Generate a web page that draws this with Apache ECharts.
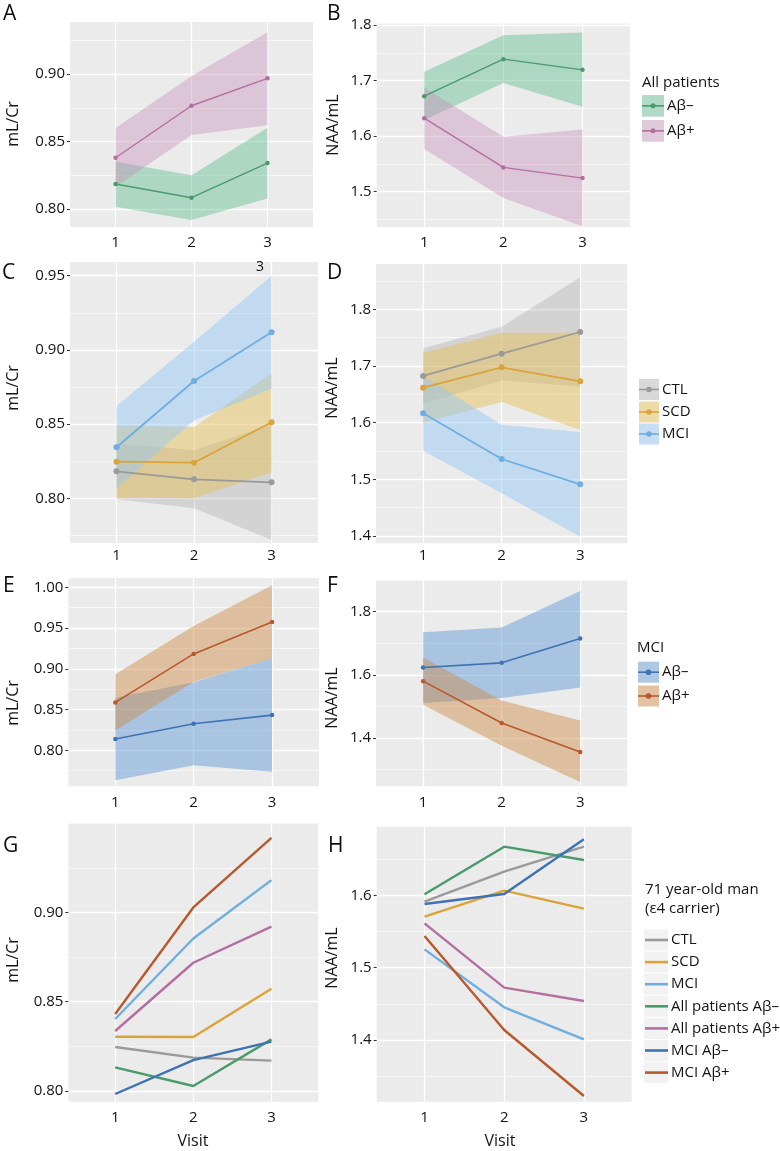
<!DOCTYPE html>
<html><head><meta charset="utf-8">
<script src="https://cdn.jsdelivr.net/npm/echarts@6/dist/echarts.min.js"></script>
<style>html,body{margin:0;padding:0;background:#fff}#c{width:780px;height:1151px}</style>
</head><body><div id="c"></div>
<script>
// ---------- data ----------
const visits = [1, 2, 3];

// A: mL/Cr, all patients
const A_negMean = [0.8185, 0.8084, 0.8340];
const A_negLow  = [0.8017, 0.7919, 0.8078];
const A_negHigh = [0.8350, 0.8250, 0.8602];
const A_posMean = [0.8380, 0.8765, 0.8968];
const A_posLow  = [0.8165, 0.8548, 0.8620];
const A_posHigh = [0.8600, 0.8985, 0.9309];
const A_yTicks  = [0.80, 0.85, 0.90];

// B: NAA/mL, all patients
const B_negMean = [1.6720, 1.7385, 1.7193];
const B_negLow  = [1.6290, 1.6955, 1.6530];
const B_negHigh = [1.7157, 1.7817, 1.7865];
const B_posMean = [1.6324, 1.5437, 1.5245];
const B_posLow  = [1.5770, 1.4888, 1.4380];
const B_posHigh = [1.6876, 1.5988, 1.6120];
const B_yTicks  = [1.5, 1.6, 1.7, 1.8];

// C: mL/Cr by group
const C_ctlMean = [0.8182, 0.8128, 0.8108];
const C_ctlLow  = [0.7993, 0.7933, 0.7719];
const C_ctlHigh = [0.8371, 0.8323, 0.8497];
const C_scdMean = [0.8247, 0.8240, 0.8512];
const C_scdLow  = [0.8004, 0.8000, 0.8175];
const C_scdHigh = [0.8490, 0.8480, 0.8840];
const C_mciMean = [0.8344, 0.8790, 0.9119];
const C_mciLow  = [0.8066, 0.8525, 0.8738];
const C_mciHigh = [0.8622, 0.9055, 0.9500];
const C_yTicks  = [0.80, 0.85, 0.90, 0.95];

// D: NAA/mL by group
const D_ctlMean = [1.6824, 1.7218, 1.7600];
const D_ctlLow  = [1.6336, 1.6742, 1.6635];
const D_ctlHigh = [1.7312, 1.7694, 1.8565];
const D_scdMean = [1.6618, 1.6976, 1.6730];
const D_scdLow  = [1.6001, 1.6364, 1.5872];
const D_scdHigh = [1.7235, 1.7588, 1.7588];
const D_mciMean = [1.6165, 1.5359, 1.4912];
const D_mciLow  = [1.5506, 1.4753, 1.3988];
const D_mciHigh = [1.6824, 1.5965, 1.5836];
const D_yTicks  = [1.4, 1.5, 1.6, 1.7, 1.8];

// E: mL/Cr, MCI by amyloid
const E_negMean = [0.8139, 0.8326, 0.8432];
const E_negLow  = [0.7633, 0.7816, 0.7736];
const E_negHigh = [0.8645, 0.8836, 0.9128];
const E_posMean = [0.8588, 0.9183, 0.9575];
const E_posLow  = [0.8242, 0.8840, 0.9126];
const E_posHigh = [0.8934, 0.9526, 1.0024];
const E_yTicks  = [0.80, 0.85, 0.90, 0.95, 1.00];

// F: NAA/mL, MCI by amyloid
const F_negMean = [1.6232, 1.6379, 1.7147];
const F_negLow  = [1.5105, 1.5263, 1.5600];
const F_negHigh = [1.7347, 1.7495, 1.8653];
const F_posMean = [1.5800, 1.4474, 1.3558];
const F_posLow  = [1.5053, 1.3758, 1.2610];
const F_posHigh = [1.6547, 1.5190, 1.4558];
const F_yTicks  = [1.4, 1.6, 1.8];

// G: mL/Cr, 71 year-old man
const G_ctl    = [0.8246, 0.8187, 0.8170];
const G_scd    = [0.8304, 0.8302, 0.8573];
const G_mci    = [0.8403, 0.8854, 0.9181];
const G_allNeg = [0.8132, 0.8028, 0.8289];
const G_allPos = [0.8336, 0.8718, 0.8920];
const G_mciNeg = [0.7983, 0.8173, 0.8276];
const G_mciPos = [0.8431, 0.9028, 0.9418];
const G_yTicks = [0.80, 0.85, 0.90];

// H: NAA/mL, 71 year-old man
const H_ctl    = [1.5912, 1.6327, 1.6673];
const H_scd    = [1.5705, 1.6065, 1.5816];
const H_mci    = [1.5253, 1.4452, 1.4009];
const H_allNeg = [1.6014, 1.6673, 1.6488];
const H_allPos = [1.5613, 1.4724, 1.4539];
const H_mciNeg = [1.5880, 1.6018, 1.6774];
const H_mciPos = [1.5438, 1.4138, 1.3226];
const H_yTicks = [1.4, 1.5, 1.6];

const indivNames = ['CTL', 'SCD', 'MCI', 'All patients A\u03b2\u2013', 'All patients A\u03b2+', 'MCI A\u03b2\u2013', 'MCI A\u03b2+'];

// ---------- styles ----------
const FONT = "'Open Sans', 'DejaVu Sans', sans-serif";
const TXT = '#141414';
const COL = {
  neg:   {line: '#4a9a6c', band: 'rgba(80,185,135,0.40)'},
  pos:   {line: '#b46fa0', band: 'rgba(197,140,185,0.40)'},
  ctl:   {line: '#9a9a9a', band: 'rgba(150,150,150,0.28)'},
  scd:   {line: '#dba43a', band: 'rgba(229,191,80,0.45)'},
  mci:   {line: '#6eaee0', band: 'rgba(144,198,247,0.45)'},
  mneg:  {line: '#3d73b3', band: 'rgba(103,157,213,0.50)'},
  mpos:  {line: '#b8582c', band: 'rgba(204,138,69,0.45)'}
};
const indivCols = [COL.ctl.line, COL.scd.line, COL.mci.line, COL.neg.line, COL.pos.line, COL.mneg.line, COL.mpos.line];

const panels = [
  {grid: {left: 70, top: 22, width: 243, height: 205}, ymin: 0.7867, ymax: 0.9385, ticks: A_yTicks, dec: 2, xm: 8,
   bands: [[A_negLow, A_negHigh, COL.neg], [A_posLow, A_posHigh, COL.pos]],
   lines: [[A_negMean, COL.neg], [A_posMean, COL.pos]], pt: 4.5, lw: 1.4},
  {grid: {left: 376.7, top: 23.5, width: 253.3, height: 203.5}, ymin: 1.4365, ymax: 1.8027, ticks: B_yTicks, dec: 1, xm: 8,
   bands: [[B_negLow, B_negHigh, COL.neg], [B_posLow, B_posHigh, COL.pos]],
   lines: [[B_negMean, COL.neg], [B_posMean, COL.pos]], pt: 4.5, lw: 1.4},
  {grid: {left: 70, top: 262, width: 248, height: 281}, ymin: 0.7699, ymax: 0.9592, ticks: C_yTicks, dec: 2, xm: 5,
   bands: [[C_ctlLow, C_ctlHigh, COL.ctl], [C_scdLow, C_scdHigh, COL.scd], [C_mciLow, C_mciHigh, COL.mci]],
   lines: [[C_ctlMean, COL.ctl], [C_scdMean, COL.scd], [C_mciMean, COL.mci]], pt: 6, lw: 1.8},
  {grid: {left: 376, top: 264, width: 251.3, height: 279.3}, ymin: 1.3871, ymax: 1.88, ticks: D_yTicks, dec: 1, xm: 5,
   bands: [[D_ctlLow, D_ctlHigh, COL.ctl], [D_scdLow, D_scdHigh, COL.scd], [D_mciLow, D_mciHigh, COL.mci]],
   lines: [[D_ctlMean, COL.ctl], [D_scdMean, COL.scd], [D_mciMean, COL.mci]], pt: 6, lw: 1.8},
  {grid: {left: 68.3, top: 578.3, width: 250.7, height: 208}, ymin: 0.7559, ymax: 1.011, ticks: E_yTicks, dec: 2, xm: 9,
   bands: [[E_negLow, E_negHigh, COL.mneg], [E_posLow, E_posHigh, COL.mpos]],
   lines: [[E_negMean, COL.mneg], [E_posMean, COL.mpos]], pt: 4.5, lw: 1.6},
  {grid: {left: 376, top: 580, width: 251.3, height: 206.3}, ymin: 1.2472, ymax: 1.9, ticks: F_yTicks, dec: 1, xm: 9,
   bands: [[F_negLow, F_negHigh, COL.mneg], [F_posLow, F_posHigh, COL.mpos]],
   lines: [[F_negMean, COL.mneg], [F_posMean, COL.mpos]], pt: 4.5, lw: 1.6},
  {grid: {left: 68.3, top: 823.5, width: 250, height: 278.2}, ymin: 0.794, ymax: 0.9498, ticks: G_yTicks, dec: 2, xm: 9,
   bands: [], lines: [G_ctl, G_scd, G_mci, G_allNeg, G_allPos, G_mciNeg, G_mciPos].map((d, k) => [d, {line: indivCols[k]}]), pt: 0, lw: 2.4},
  {grid: {left: 376.7, top: 826.7, width: 255, height: 275}, ymin: 1.3147, ymax: 1.6949, ticks: H_yTicks, dec: 1, xm: 9,
   bands: [], lines: [H_ctl, H_scd, H_mci, H_allNeg, H_allPos, H_mciNeg, H_mciPos].map((d, k) => [d, {line: indivCols[k]}]), pt: 0, lw: 2.4}
];

function minorTicks(t, lo, hi) {
  const step = t[1] - t[0];
  const out = [];
  for (let v = t[0] - step * 3.5; v < hi + 1e-9; v += step) {
    if (v >= lo - 1e-9) out.push(+v.toFixed(6));
  }
  return out;
}

const grids = [], xAxes = [], yAxes = [], series = [];
panels.forEach((p, i) => {
  grids.push(Object.assign({show: true, backgroundColor: '#EBEBEB', borderWidth: 0}, p.grid));
  xAxes.push({
    type: 'value', gridIndex: i, min: 0.4, max: 3.6,
    axisLine: {show: false},
    axisTick: {show: false, customValues: visits},
    axisLabel: {customValues: visits, margin: p.xm, color: TXT, fontSize: 15, fontFamily: FONT, formatter: v => String(v)},
    splitLine: {show: true, lineStyle: {color: '#ffffff', width: 1.3}}
  });
  yAxes.push({
    type: 'value', gridIndex: i, min: p.ymin, max: p.ymax, position: 'left',
    axisLine: {show: false},
    axisTick: {show: true, length: 3, customValues: p.ticks, lineStyle: {color: '#333', width: 1}},
    axisLabel: {customValues: p.ticks, margin: 5, color: TXT, fontSize: 15, fontFamily: FONT, formatter: v => v.toFixed(p.dec)},
    splitLine: {show: true, lineStyle: {color: '#ffffff', width: 1.3}}
  });
  yAxes.push({
    type: 'value', gridIndex: i, min: p.ymin, max: p.ymax, position: 'left',
    axisLine: {show: false},
    axisTick: {show: false, customValues: minorTicks(p.ticks, p.ymin, p.ymax)},
    axisLabel: {show: false},
    splitLine: {show: true, lineStyle: {color: '#ffffff', width: 0.6}}
  });
  p.bands.forEach(([low, high, c]) => {
    series.push({
      type: 'custom', xAxisIndex: i, yAxisIndex: 2 * i, silent: true, clip: true, z: 1,
      data: visits.map((v, k) => [v, low[k], high[k]]),
      encode: {x: 0, y: [1, 2]},
      renderItem: (params, api) => {
        if (params.dataIndex !== 0) return null;
        const pts = [];
        for (let k = 0; k < visits.length; k++) pts.push(api.coord([visits[k], high[k]]));
        for (let k = visits.length - 1; k >= 0; k--) pts.push(api.coord([visits[k], low[k]]));
        return {type: 'polygon', shape: {points: pts}, style: {fill: c.band, stroke: null}};
      }
    });
  });
  p.lines.forEach(([d, c]) => {
    series.push({
      type: 'line', xAxisIndex: i, yAxisIndex: 2 * i, silent: true, z: 3,
      data: visits.map((v, k) => [v, d[k]]),
      symbol: p.pt ? 'circle' : 'none', symbolSize: p.pt, showSymbol: !!p.pt,
      lineStyle: {color: c.line, width: p.lw}, itemStyle: {color: c.line}
    });
  });
});

// ---------- annotations / legends ----------
const g = [];
function txt(x, y, s, opt) {
  g.push(Object.assign({type: 'text', x: x, y: y, style: Object.assign({text: s, fill: TXT, font: '15px ' + FONT, align: 'left', verticalAlign: 'middle'}, (opt && opt.style) || {})}, (opt && opt.el) || {}));
}
function vtitle(x, y, s) {
  g.push({type: 'text', x: x, y: y, rotation: Math.PI / 2, style: {text: s, fill: TXT, font: '16px ' + FONT, align: 'center', verticalAlign: 'middle'}});
}
[['A', 3, 14], ['B', 327, 14], ['C', 2, 273], ['D', 327, 273], ['E', 3, 586], ['F', 327, 586], ['G', 3, 846], ['H', 328, 846]].forEach(([s, x, y]) => {
  txt(x, y, s, {style: {font: '21px ' + FONT, fill: '#0d0d0d'}});
});
vtitle(13, 124, 'mL/Cr'); vtitle(333, 125, 'NAA/mL');
vtitle(13, 388, 'mL/Cr'); vtitle(332, 388, 'NAA/mL');
vtitle(13, 703, 'mL/Cr'); vtitle(332, 698, 'NAA/mL');
vtitle(13, 960, 'mL/Cr'); vtitle(332, 958, 'NAA/mL');
txt(260, 267, '3', {style: {font: '14px ' + FONT, align: 'center', fill: '#0d0d0d'}});
txt(193, 1141, 'Visit', {style: {font: '16px ' + FONT, align: 'center'}});
txt(500, 1141, 'Visit', {style: {font: '16px ' + FONT, align: 'center'}});

function bandKey(x, y, w, h, c, label, pt) {
  g.push({type: 'rect', shape: {x: x, y: y, width: w, height: h}, style: {fill: '#F2F2F2'}});
  g.push({type: 'rect', shape: {x: x, y: y, width: w, height: h}, style: {fill: c.band}});
  g.push({type: 'line', shape: {x1: x, y1: y + h / 2, x2: x + w, y2: y + h / 2}, style: {stroke: c.line, lineWidth: 1.6}});
  g.push({type: 'circle', shape: {cx: x + w / 2, cy: y + h / 2, r: pt}, style: {fill: c.line}});
  txt(x + w + 3, y + h / 2, label, {style: {font: '15px ' + FONT}});
}
txt(642, 83, 'All patients', {style: {font: '15px ' + FONT}});
bandKey(642, 95, 22, 21.7, COL.neg, 'A\u03b2\u2013', 2.5);
bandKey(642, 120, 22, 21.7, COL.pos, 'A\u03b2+', 2.5);

bandKey(639, 379, 20, 21, COL.ctl, 'CTL', 2.8);
bandKey(639, 401.5, 20, 21, COL.scd, 'SCD', 2.8);
bandKey(639, 423.5, 20, 21, COL.mci, 'MCI', 2.8);

txt(637, 648, 'MCI', {style: {font: '15px ' + FONT}});
bandKey(638, 661.7, 21, 21, COL.mneg, 'A\u03b2\u2013', 2.8);
bandKey(638, 685.5, 21, 21, COL.mpos, 'A\u03b2+', 2.8);

txt(645, 890, '71 year-old man', {style: {font: '15px ' + FONT}});
txt(645, 908.5, '(\u03b54 carrier)', {style: {font: '15px ' + FONT}});
indivNames.forEach((nm, k) => {
  const cy = 940 + k * 22.1;
  g.push({type: 'rect', shape: {x: 644, y: cy - 10.5, width: 24, height: 21}, style: {fill: '#F2F2F2'}});
  g.push({type: 'line', shape: {x1: 645, y1: cy, x2: 668, y2: cy}, style: {stroke: indivCols[k], lineWidth: 2.6}});
  txt(671, cy, nm, {style: {font: '15px ' + FONT}});
});

const chart = echarts.init(document.getElementById('c'), null, {renderer: 'canvas'});
chart.setOption({
  animation: false,
  backgroundColor: '#ffffff',
  textStyle: {fontFamily: FONT},
  grid: grids, xAxis: xAxes, yAxis: yAxes, series: series,
  graphic: g
});
</script></body></html>
